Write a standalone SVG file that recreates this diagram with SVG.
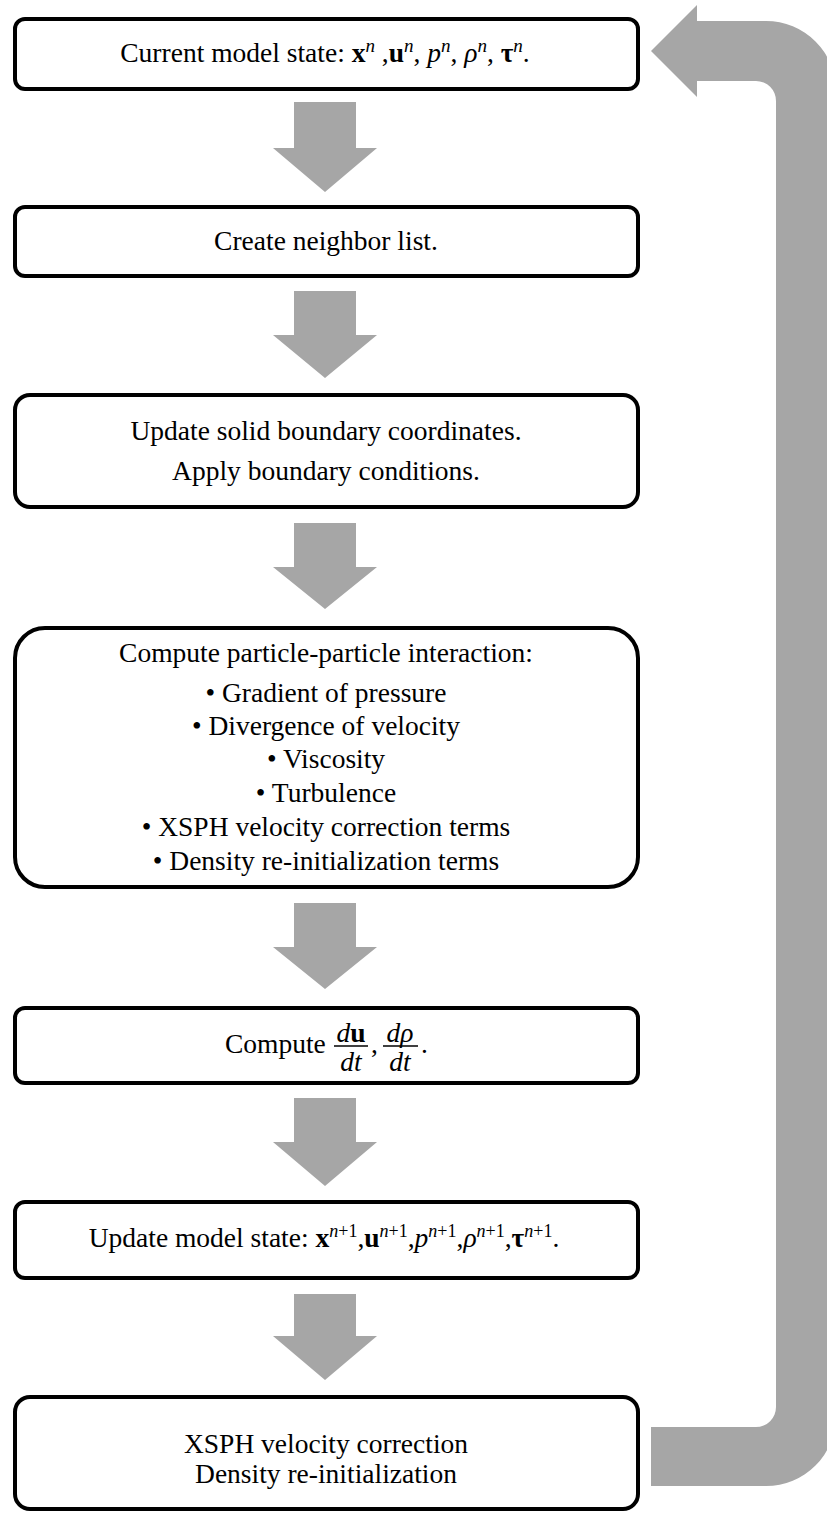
<svg xmlns="http://www.w3.org/2000/svg" width="827" height="1513" viewBox="0 0 827 1513">
<style>
.box{fill:#fff;stroke:#000;stroke-width:4}
.t{font-family:"Liberation Serif","Times New Roman",serif;font-size:27.5px;fill:#000}
.b{font-weight:bold}
.i{font-style:italic}
.s{font-size:19px;font-style:italic}
.s2{font-size:18px;font-style:italic}
.r{font-size:18px;font-style:normal}
.arr{fill:#A6A6A6}
.bar{stroke:#000;stroke-width:1.3}
</style>
<rect width="827" height="1513" fill="#fff"/>
<g id="connectors">
<path class="arr" d="M294,102 H356 V148 H377 L325,192 L273,148 H294 Z"/>
<path class="arr" d="M294,291 H356 V335 H377 L325,378 L273,335 H294 Z"/>
<path class="arr" d="M294,523 H356 V567 H377 L325,609 L273,567 H294 Z"/>
<path class="arr" d="M294,903 H356 V947 H377 L325,989 L273,947 H294 Z"/>
<path class="arr" d="M294,1098 H356 V1142 H377 L325,1186 L273,1142 H294 Z"/>
<path class="arr" d="M294,1294 H356 V1336 H377 L325,1380 L273,1336 H294 Z"/>
<path id="feedback" class="arr" d="M651,51 L697,5 V21 H766 A70,70 0 0 1 836,91 V1416 A70,70 0 0 1 766,1486 H651 V1427 H756 A20,20 0 0 0 776,1407 V101 A20,20 0 0 0 756,81 H697 V97 Z"/>
</g>
<g id="node1">
<rect class="box" x="15" y="19" width="623" height="70" rx="10"/>
<text class="t" x="325" y="62" text-anchor="middle">Current model state: <tspan class="b">x</tspan><tspan class="s" dy="-10">n</tspan><tspan dy="10"> ,</tspan><tspan class="b">u</tspan><tspan class="s" dy="-10">n</tspan><tspan dy="10">, </tspan><tspan class="i">p</tspan><tspan class="s" dy="-10">n</tspan><tspan dy="10">, </tspan><tspan class="i">ρ</tspan><tspan class="s" dy="-10">n</tspan><tspan dy="10">, </tspan><tspan class="b">τ</tspan><tspan class="s" dy="-10">n</tspan><tspan dy="10">.</tspan></text>
</g>
<g id="node2">
<rect class="box" x="15" y="207" width="623" height="69" rx="10"/>
<text class="t" x="326" y="250" text-anchor="middle">Create neighbor list.</text>
</g>
<g id="node3">
<rect class="box" x="15" y="395" width="623" height="112" rx="15"/>
<text class="t" x="326" y="440" text-anchor="middle">Update solid boundary coordinates.</text>
<text class="t" x="326" y="480" text-anchor="middle">Apply boundary conditions.</text>
</g>
<g id="node4">
<rect class="box" x="15" y="628" width="623" height="259" rx="30"/>
<text class="t" x="326" y="662" text-anchor="middle">Compute particle-particle interaction:</text>
<text class="t" x="326" y="702" text-anchor="middle">• Gradient of pressure</text>
<text class="t" x="326" y="735" text-anchor="middle">• Divergence of velocity</text>
<text class="t" x="326" y="768" text-anchor="middle">• Viscosity</text>
<text class="t" x="326" y="802" text-anchor="middle">• Turbulence</text>
<text class="t" x="326" y="836" text-anchor="middle">• XSPH velocity correction terms</text>
<text class="t" x="326" y="870" text-anchor="middle">• Density re-initialization terms</text>
</g>
<g id="node5">
<rect class="box" x="15" y="1008" width="623" height="75" rx="10"/>
<text class="t" x="225" y="1053">Compute</text>
<text class="t" x="351" y="1042" text-anchor="middle"><tspan class="i">d</tspan><tspan class="b">u</tspan></text>
<line class="bar" x1="334" y1="1046" x2="368" y2="1046"/>
<text class="t i" x="351" y="1071" text-anchor="middle">dt</text>
<text class="t" x="371" y="1053">,</text>
<text class="t i" x="400" y="1042" text-anchor="middle">dρ</text>
<line class="bar" x1="383" y1="1046" x2="418" y2="1046"/>
<text class="t i" x="400" y="1071" text-anchor="middle">dt</text>
<text class="t" x="421" y="1053">.</text>
</g>
<g id="node6">
<rect class="box" x="15" y="1202" width="623" height="76" rx="10"/>
<text class="t" x="324" y="1247" text-anchor="middle">Update model state: <tspan class="b">x</tspan><tspan class="s2" dy="-10">n</tspan><tspan class="r">+1</tspan><tspan dy="10">,</tspan><tspan class="b">u</tspan><tspan class="s2" dy="-10">n</tspan><tspan class="r">+1</tspan><tspan dy="10">,</tspan><tspan class="i">p</tspan><tspan class="s2" dy="-10">n</tspan><tspan class="r">+1</tspan><tspan dy="10">,</tspan><tspan class="i">ρ</tspan><tspan class="s2" dy="-10">n</tspan><tspan class="r">+1</tspan><tspan dy="10">,</tspan><tspan class="b">τ</tspan><tspan class="s2" dy="-10">n</tspan><tspan class="r">+1</tspan><tspan dy="10">.</tspan></text>
</g>
<g id="node7">
<rect class="box" x="15" y="1397" width="623" height="112" rx="15"/>
<text class="t" x="326" y="1453" text-anchor="middle">XSPH velocity correction</text>
<text class="t" x="326" y="1483" text-anchor="middle">Density re-initialization</text>
</g>
</svg>
